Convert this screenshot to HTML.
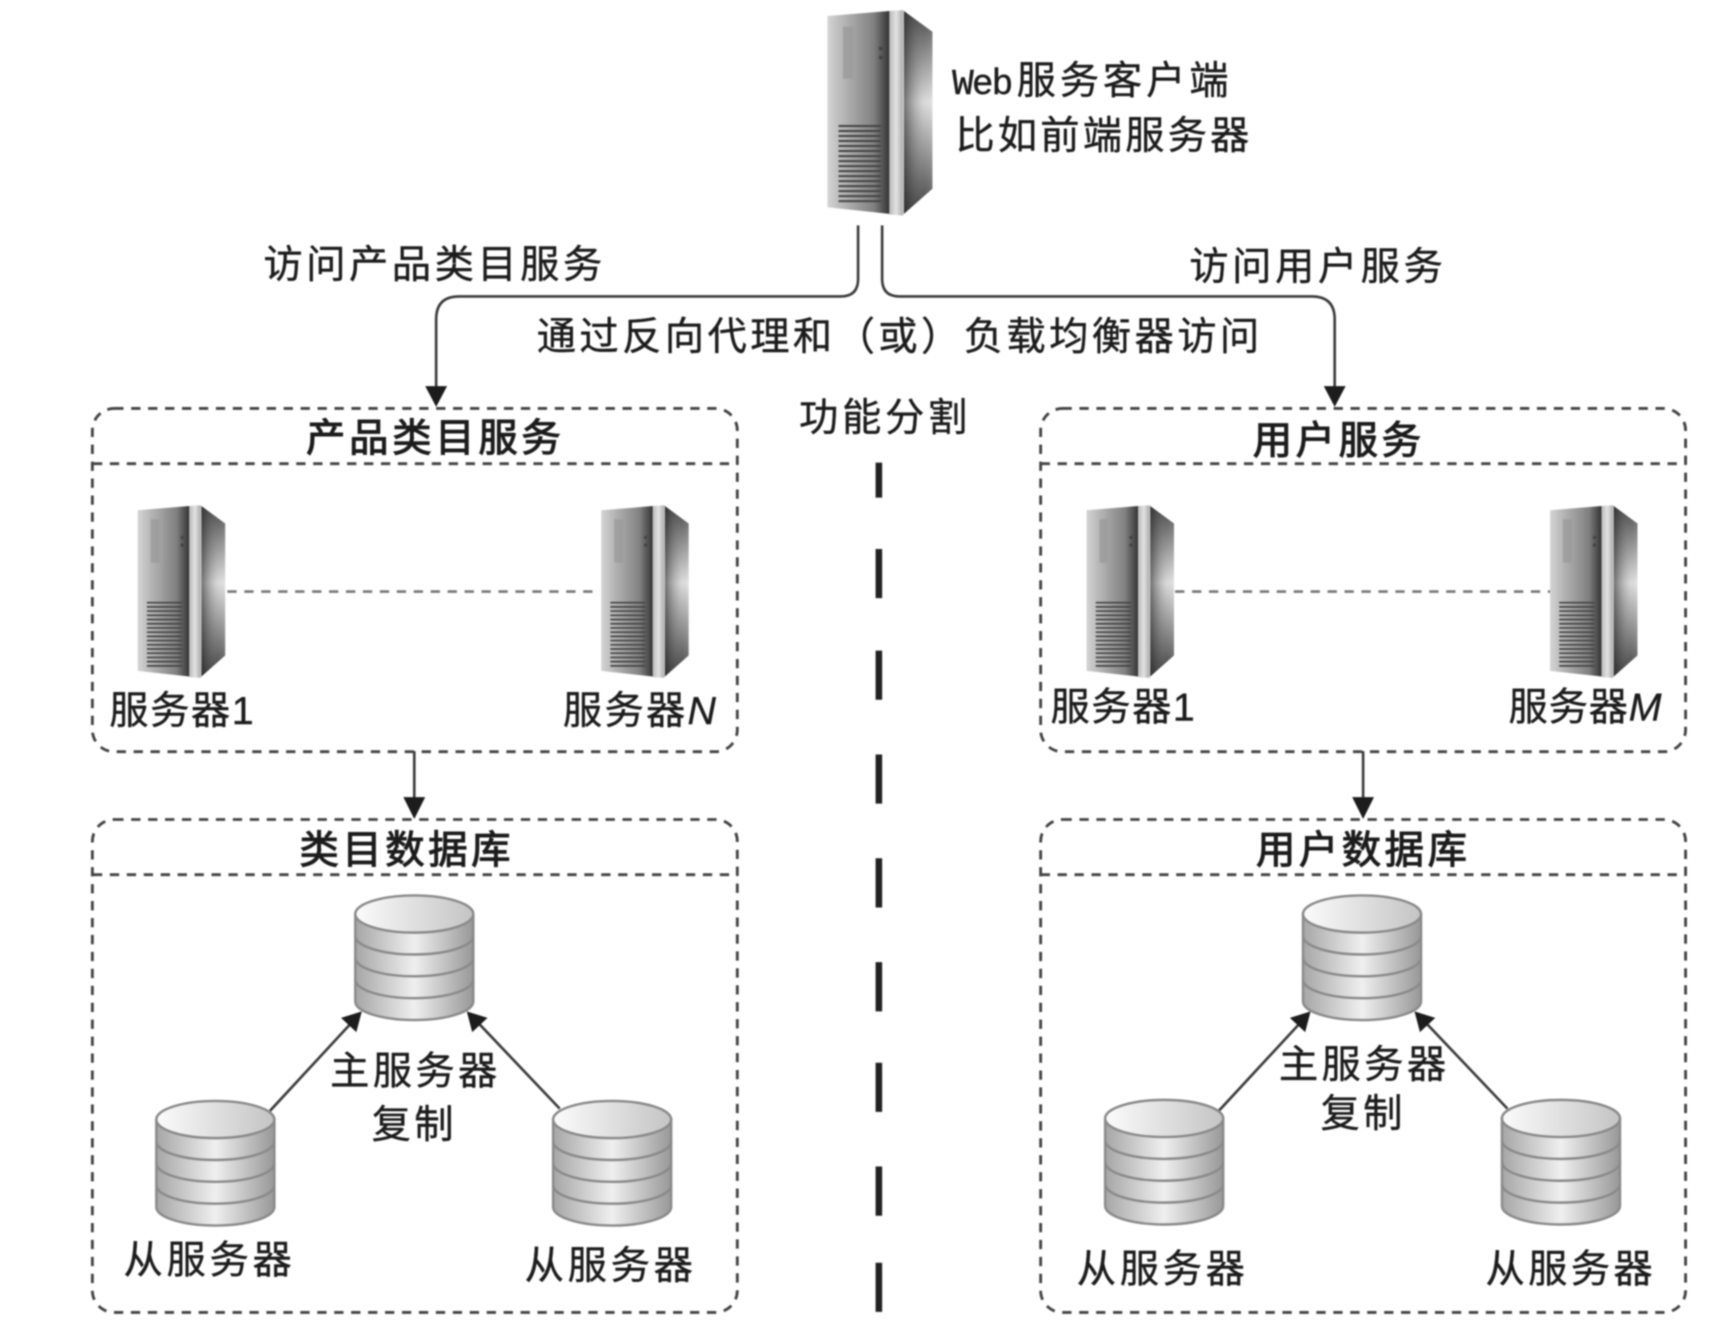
<!DOCTYPE html>
<html><head><meta charset="utf-8"><style>
html,body{margin:0;padding:0;background:#fff;width:1714px;height:1334px;overflow:hidden}
svg{display:block;filter:blur(0.9px)}
text{font-family:"Liberation Sans","Noto Sans CJK SC",sans-serif;font-size:36px;fill:#1c1c1c;stroke:#1c1c1c;stroke-width:.35px}
text.b{stroke-width:1px}
text.m{font-family:"Liberation Mono",monospace;font-size:33px}
</style></head><body>
<svg width="1714" height="1334" viewBox="0 0 1568 1220" xmlns="http://www.w3.org/2000/svg">
<defs>
<linearGradient id="f" x1="0" x2="1" y1="0" y2="0"><stop offset="0" stop-color="#d4d4d4"/><stop offset=".3" stop-color="#b0b0b0"/><stop offset=".75" stop-color="#808080"/><stop offset="1" stop-color="#333"/></linearGradient>
<linearGradient id="p" x1="0" x2="1" y1="0" y2="0"><stop offset="0" stop-color="#bbb"/><stop offset=".5" stop-color="#e2e2e2"/><stop offset="1" stop-color="#aaa"/></linearGradient>
<linearGradient id="s" x1="0" x2="0" y1="0" y2="1"><stop offset="0" stop-color="#444"/><stop offset=".45" stop-color="#e0e0e0"/><stop offset="1" stop-color="#3a3a3a"/></linearGradient>
<linearGradient id="sh" x1="0" x2="1" y1="0" y2="0"><stop offset="0" stop-color="#222" stop-opacity=".6"/><stop offset=".7" stop-color="#888" stop-opacity=".08"/><stop offset="1" stop-color="#fff" stop-opacity=".1"/></linearGradient>
<linearGradient id="c" x1="0" x2="1" y1="0" y2="0"><stop offset="0" stop-color="#a6a6a6"/><stop offset=".5" stop-color="#efefef"/><stop offset="1" stop-color="#989898"/></linearGradient>
<linearGradient id="t" x1="0" x2="1" y1="0" y2="0"><stop offset="0" stop-color="#fbfbfb"/><stop offset="1" stop-color="#c4c4c4"/></linearGradient>
<symbol id="srv" viewBox="0 0 305 615" preserveAspectRatio="none" overflow="visible">
<polygon points="0,18 180,3 180,610 0,590" fill="url(#f)"/>
<polygon points="180,3 220,0 220,615 180,612" fill="url(#p)"/>
<polygon points="222,3 305,65 305,535 222,610" fill="url(#s)"/>
<polygon points="222,3 305,65 305,535 222,610" fill="url(#sh)"/>
<rect x="45" y="50" width="30" height="155" fill="#999" opacity=".7"/>
<circle cx="155" cy="115" r="6" fill="#444"/><circle cx="155" cy="142" r="6" fill="#444"/>
<path d="M32,347H155M32,362H155M32,377H155M32,392H155M32,407H155M32,422H155M32,437H155M32,452H155M32,467H155M32,482H155M32,497H155M32,512H155M32,527H155M32,542H155M32,557H155M32,572H155" stroke="#444" stroke-width="6" fill="none"/>
</symbol>
<g id="db">
<path d="M0,17V97A54,17 0 0 0 108,97V17Z" fill="url(#c)" stroke="#8a8a8a" stroke-width="2.2"/>
<path d="M0,37A54,17 0 0 0 108,37M0,57A54,17 0 0 0 108,57M0,77A54,17 0 0 0 108,77" fill="none" stroke="#8a8a8a" stroke-width="2.2"/>
<ellipse cx="54" cy="17" rx="54" ry="17" fill="url(#t)" stroke="#8a8a8a" stroke-width="2.2"/>
</g>
</defs>
<rect width="1568" height="1220" fill="#fff"/>

<use href="#srv" x="757" y="9" width="96" height="188"/>
<use href="#srv" x="126" y="462" width="80" height="158"/>
<use href="#srv" x="550" y="462" width="80" height="158"/>
<use href="#srv" x="994" y="462" width="80" height="158"/>
<use href="#srv" x="1418" y="462" width="80" height="158"/>

<g fill="none" stroke="#444" stroke-width="2.6" stroke-dasharray="8.500 7">
<rect x="84.500" y="373.500" width="590" height="314" rx="20"/>
<rect x="84.500" y="749.500" width="590" height="451" rx="20"/>
<rect x="952" y="373.500" width="590" height="314" rx="20"/>
<rect x="952" y="749.500" width="590" height="451" rx="20"/>
<path d="M85,424H675M85,800H675M952,424H1542M952,800H1542"/>
</g>
<path d="M208,541H545M1075,541H1418" stroke="#777" stroke-width="2.4" stroke-dasharray="8.500 7" fill="none"/>

<g fill="none" stroke="#3c3c3c" stroke-width="2.4">
<path d="M785,206V255Q785,271 769,271H420Q399,271 399,292V358"/>
<path d="M807,206V255Q807,271 823,271H1200Q1221,271 1221,292V358"/>
<path d="M379,687V735M1247,687V735"/>
<path d="M247,1016L322,935M512,1014L436,934M1115,1016L1190,935M1379,1014L1303,934"/>
</g>
<g fill="#1c1c1c">
<polygon points="389,353 409,353 399,372"/>
<polygon points="1211,353 1231,353 1221,372"/>
<polygon points="369,729 389,729 379,749"/>
<polygon points="1237,729 1257,729 1247,749"/>
<polygon points="331,925 326,944 312,931"/>
<polygon points="427,925 446,931 432,944"/>
<polygon points="1199,925 1194,944 1180,931"/>
<polygon points="1294,925 1313,931 1299,944"/>
</g>

<g stroke="#222" stroke-width="6">
<path d="M804,423V455M804,502V547M804,595V640M804,690V735M804,785V830M804,880V925M804,972V1017M804,1067V1112M804,1155V1200"/>
</g>

<use href="#db" x="325" y="819"/>
<use href="#db" x="143" y="1007"/>
<use href="#db" x="506" y="1007"/>
<use href="#db" x="1192" y="819"/>
<use href="#db" x="1011" y="1006"/>
<use href="#db" x="1374" y="1006"/>

<text class="m" x="871" y="86" textLength="56">Web</text>
<text x="930" y="86" textLength="194">服务客户端</text>
<text x="874" y="136" textLength="269">比如前端服务器</text>
<text x="241" y="254" textLength="310">访问产品类目服务</text>
<text x="1088" y="256" textLength="232">访问用户服务</text>
<text x="491" y="320" textLength="661">通过反向代理和（或）负载均衡器访问</text>
<text x="731" y="394" textLength="154">功能分割</text>
<text class="b" x="280" y="413" textLength="233">产品类目服务</text>
<text class="b" x="1146" y="415" textLength="154">用户服务</text>
<text x="100" y="662" textLength="132">服务器1</text>
<text x="515" y="662" textLength="140">服务器<tspan font-style="italic">N</tspan></text>
<text x="961" y="659" textLength="132">服务器1</text>
<text x="1380" y="659" textLength="140">服务器<tspan font-style="italic">M</tspan></text>
<text class="b" x="274" y="790" textLength="193">类目数据库</text>
<text class="b" x="1149" y="790" textLength="193">用户数据库</text>
<text x="302" y="992" textLength="153">主服务器</text>
<text x="340" y="1041" textLength="75">复制</text>
<text x="1170" y="986" textLength="153">主服务器</text>
<text x="1208" y="1031" textLength="75">复制</text>
<text x="113" y="1165" textLength="154">从服务器</text>
<text x="480" y="1170" textLength="154">从服务器</text>
<text x="985" y="1173" textLength="154">从服务器</text>
<text x="1359" y="1173" textLength="153">从服务器</text>
</svg>
</body></html>
